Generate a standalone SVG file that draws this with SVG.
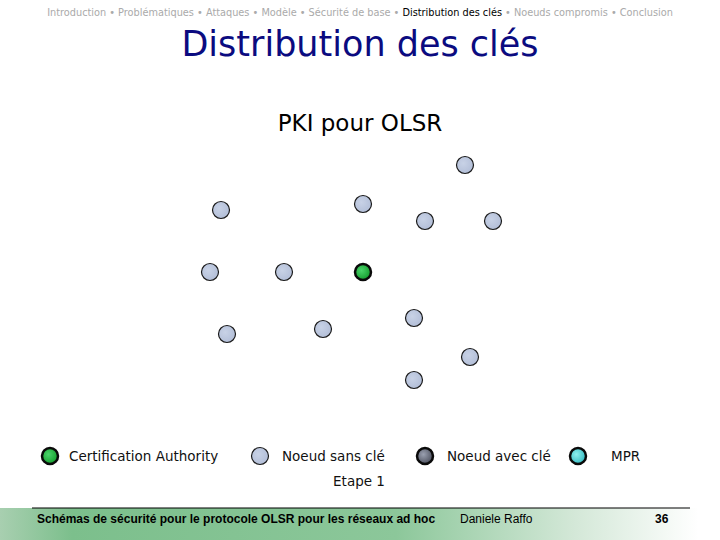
<svg xmlns="http://www.w3.org/2000/svg" width="720" height="540" viewBox="0 0 720 540">
<defs>
<radialGradient id="gLight" cx="0.4" cy="0.4" r="0.7"><stop offset="0" stop-color="#c8d2e6"/><stop offset="1" stop-color="#b0bcd6"/></radialGradient>
<radialGradient id="gGreen" cx="0.4" cy="0.4" r="0.65"><stop offset="0" stop-color="#4ad46a"/><stop offset="1" stop-color="#119a2a"/></radialGradient>
<radialGradient id="gDark" cx="0.4" cy="0.4" r="0.65"><stop offset="0" stop-color="#9aa0b0"/><stop offset="1" stop-color="#4a4e5c"/></radialGradient>
<radialGradient id="gCyan" cx="0.4" cy="0.4" r="0.65"><stop offset="0" stop-color="#8ef0ee"/><stop offset="1" stop-color="#30b8c0"/></radialGradient>
<linearGradient id="gFoot" x1="0" y1="0" x2="1" y2="0"><stop offset="0" stop-color="#a8cfb0"/><stop offset="0.1" stop-color="#7cbf8c"/><stop offset="0.55" stop-color="#8cc79a"/><stop offset="0.8" stop-color="#d4e8d8"/><stop offset="0.97" stop-color="#ffffff"/></linearGradient>
</defs>
<style>
.n{fill:url(#gLight);stroke:#1a1a1a;stroke-width:1.2}
.ca{fill:url(#gGreen);stroke:#0a0a0a;stroke-width:2.5}
.dk{fill:url(#gDark);stroke:#0a0a0a;stroke-width:2.5}
.mpr{fill:url(#gCyan);stroke:#0a0a0a;stroke-width:2.5}
.t{font-family:"DejaVu Sans",sans-serif}
.lg{font-family:"DejaVu Sans",sans-serif;font-size:13.5px;fill:#111}
.ft{font-family:"Liberation Sans",Arial,sans-serif;font-size:12px;fill:#000}
</style>
<rect width="720" height="540" fill="#fff"/>
<text class="t" x="360" y="16" text-anchor="middle" font-size="9.75" fill="#aaaaaa">Introduction • Problématiques • Attaques • Modèle • Sécurité de base • <tspan fill="#000">Distribution des clés</tspan> • Noeuds compromis • Conclusion</text>
<text class="t" x="360" y="56" text-anchor="middle" font-size="35" fill="#0b0b80">Distribution des clés</text>
<text class="t" x="360" y="131" text-anchor="middle" font-size="23" fill="#000">PKI pour OLSR</text>
<g id="connectors"></g>
<g id="n1"><circle class="n" cx="465" cy="165" r="8.5"/></g>
<g id="n2"><circle class="n" cx="221" cy="210" r="8.5"/></g>
<g id="n3"><circle class="n" cx="363" cy="204" r="8.5"/></g>
<g id="n4"><circle class="n" cx="425" cy="221" r="8.5"/></g>
<g id="n5"><circle class="n" cx="493" cy="221" r="8.5"/></g>
<g id="n6"><circle class="n" cx="210" cy="272" r="8.5"/></g>
<g id="n7"><circle class="n" cx="284" cy="272" r="8.5"/></g>
<g id="ca"><circle class="ca" cx="363" cy="272" r="8"/></g>
<g id="n8"><circle class="n" cx="414" cy="318" r="8.5"/></g>
<g id="n9"><circle class="n" cx="323" cy="329" r="8.5"/></g>
<g id="n10"><circle class="n" cx="227" cy="334" r="8.5"/></g>
<g id="n11"><circle class="n" cx="470" cy="357" r="8.5"/></g>
<g id="n12"><circle class="n" cx="414" cy="380" r="8.5"/></g>
<g id="legend">
<circle class="ca" cx="50" cy="456" r="8"/>
<text class="lg" x="69" y="461">Certification Authority</text>
<circle class="n" cx="260" cy="456" r="8.5"/>
<text class="lg" x="282" y="461">Noeud sans clé</text>
<circle class="dk" cx="425" cy="456" r="8"/>
<text class="lg" x="447" y="461">Noeud avec clé</text>
<circle class="mpr" cx="578" cy="456" r="8"/>
<text class="lg" x="611" y="461">MPR</text>
<text class="lg" x="359" y="486" text-anchor="middle" font-size="13">Etape 1</text>
</g>
<g id="footer">
<rect x="0" y="508" width="720" height="32" fill="url(#gFoot)"/>
<line x1="32" y1="508" x2="690" y2="508" stroke="#000" stroke-width="1.2"/>
<text class="ft" x="37" y="523" font-weight="bold">Schémas de sécurité pour le protocole OLSR pour les réseaux ad hoc</text>
<text class="ft" x="460" y="523">Daniele Raffo</text>
<text class="ft" x="655" y="523" font-weight="bold">36</text>
</g>
</svg>
